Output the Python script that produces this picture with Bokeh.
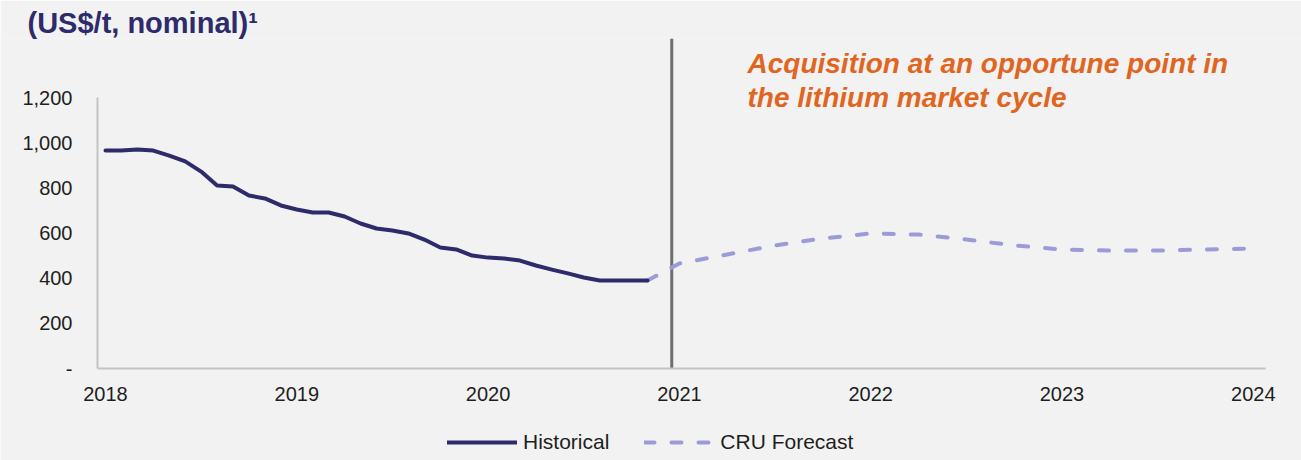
from bokeh.plotting import figure
from bokeh.models import Label, Legend, LegendItem, FixedTicker, Range1d
from bokeh.embed import file_html
from bokeh.resources import INLINE

# ---------------- data ----------------
year_ticks = [2018, 2019, 2020, 2021, 2022, 2023, 2024]
year_labels = ["2018", "2019", "2020", "2021", "2022", "2023", "2024"]
y_ticks = [0, 200, 400, 600, 800, 1000, 1200]
y_tick_labels = ["-", "200", "400", "600", "800", "1,000", "1,200"]

# Historical: monthly, Jan 2018 .. Nov 2020
hist_month_index = list(range(35))
hist_values = [965, 965, 970, 965, 943, 917, 872, 810, 806, 766, 753, 722,
               704, 691, 691, 673, 642, 620, 611, 598, 571, 536, 527, 500,
               491, 487, 478, 456, 438, 421, 403, 390, 390, 390, 390]

# CRU forecast: from Nov 2020, quarterly to 2024
forecast_years = [2020.833, 2021.0, 2021.25, 2021.5, 2021.75, 2022.0, 2022.25,
                  2022.5, 2022.75, 2023.0, 2023.25, 2023.5, 2023.75, 2024.0]
forecast_values = [390, 465, 505, 545, 576, 598, 593, 571, 545, 527, 522, 522,
                   527, 531]

acquisition_year = 2020.96

title_text = "(US$/t, nominal)\u00b9"
note_lines = ["Acquisition at an opportune point in", "the lithium market cycle"]

# ---------------- layout helpers (page pixels) ----------------
W, H = 1301, 460
PX_PER_YEAR = 191.3
PX_PER_UNIT = 271.0 / 1200.0
X0_PX = 105.0            # page x of 2018
Y0_PX = 368.0            # page y of value 0 (x axis line)
AXIS_L, AXIS_R = 97, 1265
FRAME_T = 38             # top of frame (title panel above)
LINE_TOP_PX = 38


def x_at(px):
    return 2018 + (px - X0_PX) / PX_PER_YEAR


def y_at(py):
    return (Y0_PX - py) / PX_PER_UNIT


hist_x = [2018 + m / 12.0 for m in hist_month_index]

FONT = "Liberation Sans"
BG = "#f2f2f2"
NAVY = "#2d2b6b"
LAVENDER = "#9c9bd9"
ORANGE = "#e0661f"

p = figure(width=W, height=H, output_backend="svg", toolbar_location=None,
           x_range=Range1d(x_at(0), x_at(W)),
           y_range=Range1d(y_at(H), y_at(FRAME_T)),
           min_border_left=0, min_border_right=0,
           min_border_top=FRAME_T, min_border_bottom=0)
p.background_fill_color = BG
p.border_fill_color = BG
p.outline_line_color = None
p.xgrid.visible = False
p.ygrid.visible = False

# title
p.title.text = title_text
p.title.align = "left"
p.title.offset = 27
p.title.standoff = 0
p.title.text_font = FONT
p.title.text_font_size = "29px"
p.title.text_font_style = "bold"
p.title.text_color = NAVY

# axes (drawn at fixed data positions inside the frame)
p.xaxis.ticker = FixedTicker(ticks=year_ticks)
p.xaxis.major_label_overrides = {t: l for t, l in zip(year_ticks, year_labels)}
p.xaxis.fixed_location = 0
p.xaxis.bounds = (x_at(AXIS_L), x_at(AXIS_R))
p.yaxis.ticker = FixedTicker(ticks=y_ticks)
p.yaxis.major_label_overrides = {t: l for t, l in zip(y_ticks, y_tick_labels)}
p.yaxis.fixed_location = x_at(AXIS_L)
p.yaxis.bounds = (0, 1200)
for ax in (p.xaxis, p.yaxis):
    ax.axis_line_color = "#c3c3c3"
    ax.axis_line_width = 2
    ax.major_tick_line_color = None
    ax.minor_tick_line_color = None
    ax.major_tick_out = 0
    ax.major_tick_in = 0
    ax.major_label_text_font = FONT
    ax.major_label_text_font_size = "20px"
    ax.major_label_text_color = "#1e1e1e"
p.yaxis.major_label_standoff = 25
p.xaxis.major_label_standoff = 18

# acquisition vertical line
p.segment(x0=[acquisition_year], y0=[0], x1=[acquisition_year], y1=[y_at(LINE_TOP_PX)],
          line_color="#6e6e6e", line_width=3)

r_fc = p.line(forecast_years, forecast_values, line_color=LAVENDER, line_width=4,
              line_dash="10 17", line_cap="round")
r_hist = p.line(hist_x, hist_values, line_color=NAVY, line_width=4, line_join="round",
                line_cap="round")

# note
for i, line in enumerate(note_lines):
    p.add_layout(Label(x=x_at(747), y=y_at(63 + 34 * i), text=line, text_font=FONT,
                       text_font_size="28px", text_font_style="bold italic",
                       text_color=ORANGE, text_align="left", text_baseline="alphabetic"))

legend = Legend(items=[LegendItem(label="Historical", renderers=[r_hist]),
                       LegendItem(label="CRU Forecast", renderers=[r_fc])],
                location=(447, H - 454), orientation="horizontal",
                glyph_width=70, glyph_height=20, label_height=20, label_standoff=6,
                spacing=35, padding=0, margin=0,
                label_text_font=FONT, label_text_font_size="21px",
                label_text_color="#1e1e1e",
                background_fill_alpha=0, border_line_color=None)
p.add_layout(legend)

html = file_html(p, INLINE)
open("out.html", "w").write(html)
